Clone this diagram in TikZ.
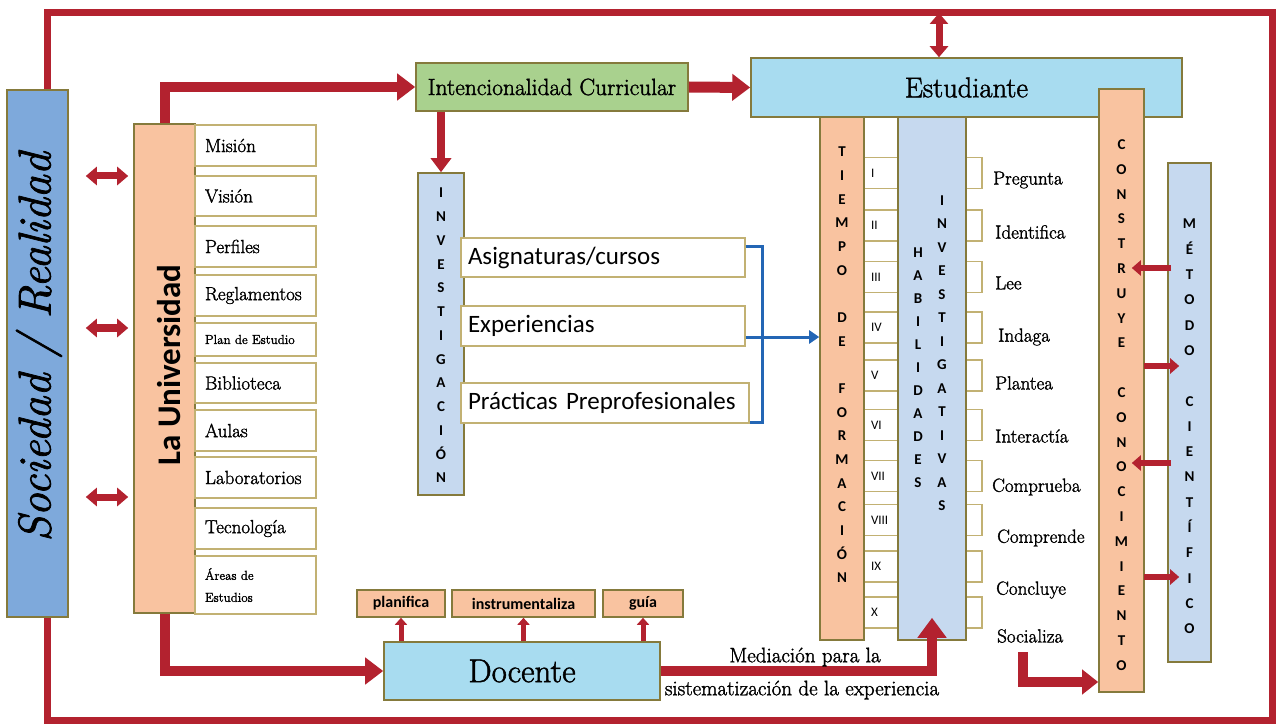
\documentclass[tikz,border=0pt]{standalone}
\usepackage{fontspec}
\newfontfamily\carl{Carlito}
\newfontfamily\sr{Latin Modern Roman}[FakeBold=1.6]
\usetikzlibrary{arrows.meta}
\definecolor{rr}{HTML}{B3222F}
\definecolor{peach}{HTML}{F9C3A0}
\definecolor{sky}{HTML}{A8DCF0}
\definecolor{steel}{HTML}{C6D9EF}
\definecolor{socblue}{HTML}{7EA9DB}
\definecolor{grn}{HTML}{A9D18E}
\definecolor{bord}{HTML}{857A3C}
\definecolor{ibord}{HTML}{C2B173}
\definecolor{brk}{HTML}{2366B5}
\tikzset{
  bx/.style={draw=bord, line width=1.6pt, inner sep=0pt},
  item/.style={draw=ibord, line width=1.2pt, fill=white, minimum width=121pt, text width=101pt, align=left, inner sep=0pt, font=\sr\fontsize{19}{21}\selectfont},
  sbox/.style={draw=ibord, line width=1.2pt, fill=white, inner sep=0pt},
  rbox/.style={sbox, minimum width=34pt, minimum height=31pt, text width=20pt, align=left, font=\carl\fontsize{13}{15}\selectfont},
  lab/.style={anchor=west, inner sep=0pt, font=\sr\fontsize{19}{21}\selectfont},
  vlet/.style={inner sep=0pt, align=center},
  ra/.style={draw=rr, line width=#1, line cap=butt, line join=miter},
  bigtip/.style={-{Triangle[length=18pt,width=26pt]}},
  dtip/.style={{Triangle[length=11pt,width=18pt]}-{Triangle[length=11pt,width=18pt]}},
  frame/.style={draw=rr, line width=7pt, line cap=butt, line join=miter},
  br/.style={draw=brk, line width=3pt, line join=miter},
}
\begin{document}
\begin{tikzpicture}[x=1pt,y=-1pt]
\useasboundingbox (0,0) rectangle (1277,727);
\fill[white] (0,0) rectangle (1277,727);

% Sociedad
\node[bx, fill=socblue, minimum width=61pt, minimum height=527pt] (soc) at (37.5,353.5) {};
\node[rotate=90, inner sep=0pt, font=\sr\itshape\fontsize{46}{46}\selectfont] (socT) at (39,347) {Sociedad / Realidad};

% frame
\coordinate (fl) at (47,13);
\coordinate (ftop) at (939,13);
\draw[frame] (soc.north -| fl) -- (47,13) -- (1272,13) -- (1272,720) -- (47,720) -- (soc.south -| fl);

% Universidad
\node[bx, fill=peach, minimum width=61pt, minimum height=489pt] (uni) at (164.5,368.5) {};
\node[rotate=90, inner sep=0pt, font=\carl\bfseries\fontsize{33}{33}\selectfont] (uniT) at (169,365) {La Universidad};

% items
\foreach \n/\y/\h/\t in {mis/145.5/41/Misión, vis/196/40/Visión, per/246.5/41/Perfiles, reg/295.5/41/Reglamentos, bib/383/40/Biblioteca, aul/430.5/41/Aulas, lab/477.5/41/Laboratorios, tec/528.5/41/Tecnología}
  \node[item, minimum height=\h pt] (\n) at (255.5,\y) {\t};
\node[item, minimum height=33pt, font=\sr\fontsize{13}{15}\selectfont] (plan) at (255.5,339.5) {Plan de Estudio};
\node[item, minimum height=58pt, font=\sr\fontsize{13}{22}\selectfont] (are) at (255.5,585) {Áreas de\\Estudios};

% double arrows soc <-> uni
\foreach \y in {176,328,497}
  \draw[ra=7pt, dtip, shorten <=17pt, shorten >=5pt] (soc.east |- 0,\y) -- (uni.west |- 0,\y);

% Intencionalidad
\node[bx, fill=grn, minimum width=272pt, minimum height=48pt, font=\sr\fontsize{23.5}{25}\selectfont] (int) at (552,87) {Intencionalidad Curricular};

% Estudiante
\node[bx, fill=sky, minimum width=431pt, minimum height=59pt, font=\sr\fontsize{28.5}{30}\selectfont] (est) at (966.5,87.5) {Estudiante};
\draw[ra=7pt, dtip] (ftop) -- (ftop |- est.north);

% arrows from universidad
\draw[ra=10pt, bigtip] (uni.north) |- (int.west);
\draw[ra=11pt, bigtip] (int.east) -- (est.west);

% Investigacion
\node[bx, fill=steel, minimum width=46pt, minimum height=322pt] (inv) at (441,334) {};
\node[vlet, font=\carl\bfseries\fontsize{15}{23.75}\selectfont] (invT) at (441,335.5) {I\\N\\V\\E\\S\\T\\I\\G\\A\\C\\I\\Ó\\N};
\draw[ra=8pt, -{Triangle[length=14pt,width=20pt]}] (inv.north |- int.south) -- (inv.north);

% activity boxes
\node[sbox, minimum width=284pt, minimum height=39pt, text width=270pt, align=left, font=\carl\fontsize{25}{27}\selectfont] (asig) at (603,257.5) {Asignaturas/cursos};
\node[sbox, minimum width=284pt, minimum height=40pt, text width=270pt, align=left, font=\carl\fontsize{25}{27}\selectfont] (exp) at (603,326) {Experiencias};
\node[sbox, minimum width=288pt, minimum height=40pt, text width=274pt, align=left, font=\carl\fontsize{25}{27}\selectfont] (prac) at (605,403) {Prácticas Preprofesionales};
\coordinate (bk) at (762,247);
\draw[br] (asig.east |- bk) -- (bk) -- (bk |- 0,422) -- (prac.east |- 0,422);

% Tiempo / numerals / Habilidades
\foreach \r/\y in {I/173, II/225.5, III/277, IV/327.5, V/375.5, VI/425, VII/476, VIII/520, IX/566.5, X/612.5}
  \node[rbox] (r\r) at (881,\y) {\r};
\foreach \k/\y in {1/173, 2/225.5, 3/277, 4/327.5, 5/375.5, 6/425, 7/476, 8/520, 9/566.5, 10/612.5}
  \node[sbox, minimum width=16pt, minimum height=31pt] (s\k) at (974,\y) {};
\node[bx, fill=peach, minimum width=44pt, minimum height=523pt] (tie) at (842,378.5) {};
\node[vlet, font=\carl\bfseries\fontsize{15}{23.67}\selectfont] (tieT) at (842,365) {T\\I\\E\\M\\P\\O\\ \\D\\E\\ \\F\\O\\R\\M\\A\\C\\I\\Ó\\N};
\node[bx, fill=steel, minimum width=68pt, minimum height=523pt] (hab) at (932,378.5) {};
\node[vlet, font=\carl\bfseries\fontsize{15}{23}\selectfont] (habT) at (918,368) {H\\A\\B\\I\\L\\I\\D\\A\\D\\E\\S};
\node[vlet, font=\carl\bfseries\fontsize{15}{23.5}\selectfont] (habT2) at (942,353) {I\\N\\V\\E\\S\\T\\I\\G\\A\\T\\I\\V\\A\\S};

\draw[br, -{Triangle[length=10pt,width=13pt]}] (exp.east |- 0,337) -- (tie.west |- 0,337);

% skill labels
\node[lab] (lPre) at (993,180) {Pregunta};
\node[lab] (lIde) at (995,232) {Identifica};
\node[lab] (lLee) at (995,283) {Lee};
\node[lab] (lInd) at (998,337) {Indaga};
\node[lab] (lPla) at (995,383) {Plantea};
\node[lab] (lInt) at (995,436) {Interactía};
\node[lab] (lCom) at (992,487) {Comprueba};
\node[lab] (lCmp) at (997,538) {Comprende};
\node[lab] (lCon) at (996,590) {Concluye};
\node[lab] (lSoc) at (997,636) {Socializa};

% Construye / Metodo
\node[bx, fill=peach, minimum width=45pt, minimum height=603pt] (cons) at (1121.5,390.5) {};
\node[vlet, font=\carl\bfseries\fontsize{15}{24.8}\selectfont] (consT) at (1121.5,405) {C\\O\\N\\S\\T\\R\\U\\Y\\E\\ \\C\\O\\N\\O\\C\\I\\M\\I\\E\\N\\T\\O};
\node[bx, fill=steel, minimum width=43pt, minimum height=499pt] (met) at (1189.5,412.5) {};
\node[vlet, font=\carl\bfseries\fontsize{15}{25.3}\selectfont] (metT) at (1189.5,426.5) {M\\É\\T\\O\\D\\O\\ \\C\\I\\E\\N\\T\\Í\\F\\I\\C\\O};
\foreach \y in {268,463}
  \draw[ra=6pt, -{Triangle[length=9pt,width=15pt]}, shorten <=-4pt, shorten >=-13pt] (met.west |- 0,\y) -- (cons.east |- 0,\y);
\foreach \y in {366,577}
  \draw[ra=6pt, -{Triangle[length=9pt,width=15pt]}, shorten <=-1pt, shorten >=-12pt] (cons.east |- 0,\y) -- (met.west |- 0,\y);
\coordinate (sz) at (1023,652);
\draw[ra=10pt, -{Triangle[length=16pt,width=24pt]}] (sz) |- (cons.west |- 0,682);

% Docente
\node[bx, fill=sky, minimum width=276pt, minimum height=58pt, font=\sr\fontsize{33}{35}\selectfont] (doc) at (522,671) {Docente};
\node[bx, fill=peach, minimum width=88pt, minimum height=27pt, font=\carl\bfseries\fontsize{16}{18}\selectfont] (pla) at (401,603.5) {planifica};
\node[bx, fill=peach, minimum width=143pt, minimum height=27pt, font=\carl\bfseries\fontsize{16}{18}\selectfont] (ins) at (523.5,603.5) {instrumentaliza};
\node[bx, fill=peach, minimum width=80pt, minimum height=27pt, font=\carl\bfseries\fontsize{16}{18}\selectfont] (gui) at (643,603.5) {guía};
\foreach \b in {pla,ins,gui}
  \draw[ra=5pt, -{Triangle[length=7pt,width=12pt]}] (\b.south |- doc.north) -- (\b.south);
\draw[ra=10pt, bigtip] (uni.south) |- (doc.west);
\draw[ra=10pt, -{Triangle[length=20pt,width=28pt]}] (doc.east) -| ([yshift=23pt]hab.south);
\node[inner sep=0pt, font=\sr\fontsize{21}{23}\selectfont] (med1) at (805,657) {Mediación para la};
\node[inner sep=0pt, font=\sr\fontsize{21}{23}\selectfont] (med2) at (802,690) {sistematización de la experiencia};
\end{tikzpicture}
\end{document}
